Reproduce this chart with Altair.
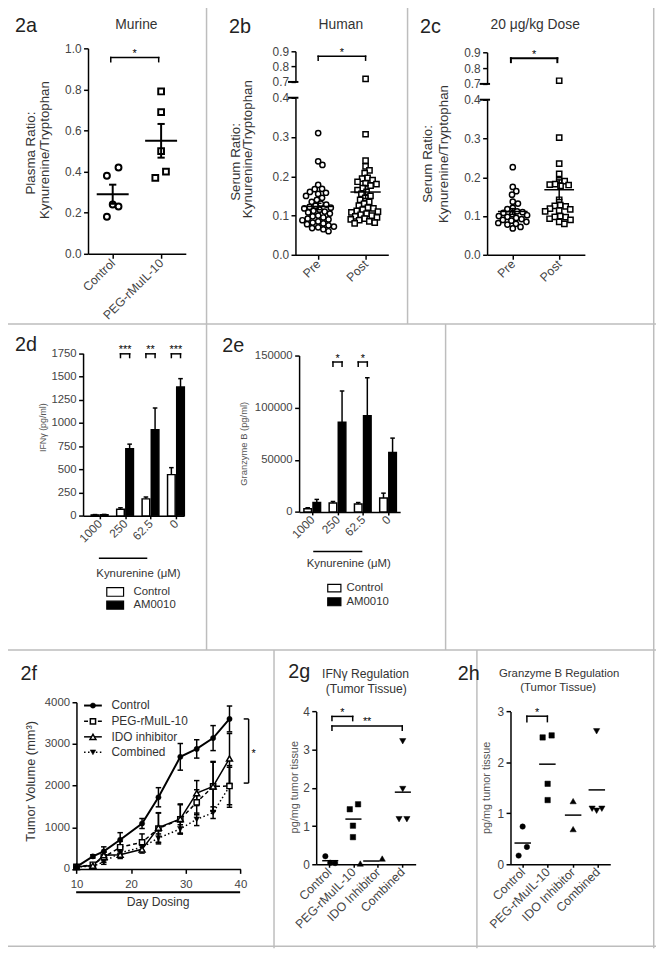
import math
import altair as alt
import pandas as pd

# ------------------------------------------------------------------ data
a_groups = ['Control', 'PEG-rMuIL-10']
a_control = [0.42, 0.38, 0.24, 0.23, 0.18]
a_control_jitter = [0.12, -0.12, 0.0, 0.12, -0.12]
a_peg = [0.79, 0.69, 0.50, 0.37, 0.40]
a_peg_jitter = [0.0, 0.0, 0.0, -0.12, 0.10]

bc_groups = ['Pre', 'Post']
b_pre = [0.31, 0.238, 0.229, 0.178, 0.168, 0.167, 0.160, 0.158, 0.155, 0.150,
         0.145, 0.140, 0.135, 0.130, 0.128, 0.125, 0.122, 0.120, 0.118, 0.115,
         0.112, 0.110, 0.108, 0.105, 0.100, 0.098, 0.095, 0.092, 0.090, 0.088,
         0.085, 0.082, 0.080, 0.078, 0.075, 0.072, 0.070, 0.068, 0.065, 0.060]
b_post = [0.72, 0.307, 0.240, 0.225, 0.215, 0.208, 0.196, 0.194, 0.190, 0.186,
          0.182, 0.180, 0.176, 0.170, 0.165, 0.160, 0.155, 0.150, 0.145, 0.140,
          0.135, 0.130, 0.125, 0.120, 0.118, 0.115, 0.112, 0.110, 0.108, 0.105,
          0.102, 0.100, 0.098, 0.095, 0.092, 0.090, 0.088, 0.085, 0.082, 0.080]
c_pre = [0.226, 0.175, 0.164, 0.155, 0.137, 0.132, 0.121, 0.118, 0.112, 0.110,
         0.108, 0.105, 0.102, 0.100, 0.098, 0.095, 0.092, 0.090, 0.088, 0.085,
         0.082, 0.080, 0.078, 0.072, 0.068]
c_post = [0.72, 0.302, 0.235, 0.209, 0.192, 0.190, 0.182, 0.181, 0.180, 0.178,
          0.142, 0.128, 0.126, 0.125, 0.119, 0.117, 0.114, 0.112, 0.100, 0.098,
          0.097, 0.093, 0.090, 0.085, 0.080]

de_conc = ['1000', '250', '62.5', '0']
d_control = [10, 70, 183, 444]
d_control_sem = [4, 17, 20, 75]
d_am0010 = [12, 722, 926, 1387]
d_am0010_sem = [4, 50, 235, 90]
d_sig = ['', '***', '**', '***']

e_control = [3100, 8500, 7600, 13300]
e_control_sem = [900, 1500, 1400, 4700]
e_am0010 = [9100, 86000, 92300, 56900]
e_am0010_sem = [2900, 30000, 36400, 13900]
e_sig = ['', '*', '*', '']

f_days = [10, 13, 15, 18, 22, 25, 29, 32, 35, 38]
f_series = ['Control', 'PEG-rMuIL-10', 'IDO inhibitor', 'Combined']
f_control = [50, 300, 420, 700, 1090, 1720, 2690, 2880, 3140, 3600]
f_control_sem = [20, 40, 110, 170, 120, 230, 320, 220, 300, 310]
f_peg = [50, 100, 280, 520, 640, 970, 1190, 1600, 1980, 1990]
f_peg_sem = [20, 30, 120, 140, 200, 370, 350, 300, 580, 450]
f_ido = [50, 80, 330, 340, 470, 990, 1200, 1820, 1980, 2650]
f_ido_sem = [20, 30, 80, 90, 90, 360, 360, 300, 600, 600]
f_comb = [50, 60, 170, 390, 520, 740, 960, 1190, 1350, 1980]
f_comb_sem = [20, 20, 60, 90, 90, 100, 100, 150, 140, 500]

gh_groups = ['Control', 'PEG-rMuIL-10', 'IDO Inhibitor', 'Combined']
g_control = [0.21, 0.04, 0.03]
g_peg = [1.44, 1.57, 1.01, 0.71]
g_ido = [0.02, 0.15]
g_comb = [3.22, 1.97, 1.18, 1.18]
g_control_jitter = [-0.15, 0.05, 0.25]
g_peg_jitter = [-0.15, 0.19, -0.02, -0.02]
g_ido_jitter = [-0.72, 0.18]
g_comb_jitter = [0.02, 0.02, -0.13, 0.19]

h_control = [0.74, 0.34, 0.17]
h_peg = [2.49, 2.53, 1.58, 1.26]
h_ido = [1.24, 0.69]
h_comb = [2.61, 1.09, 1.05, 1.09]
h_control_jitter = [0.0, 0.17, -0.16]
h_peg_jitter = [-0.2, 0.16, 0.0, 0.0]
h_ido_jitter = [0.02, 0.02]
h_comb_jitter = [-0.04, -0.22, -0.04, 0.17]

# ------------------------------------------------------------------ layout helpers
W, H = 656, 946
OX, OY = 8, 8
FONT = 'Liberation Sans'
ONE = pd.DataFrame({'k': [0]})
layers = []


def px(x):
    return x - OX


def py(y):
    return y - OY


class Panel:
    def __init__(self, xdom, xr, ydom, yr):
        self.xs = alt.Scale(domain=list(xdom), range=[px(xr[0]), px(xr[1])], nice=False, zero=False)
        self.ys = alt.Scale(domain=list(ydom), range=[py(yr[0]), py(yr[1])], nice=False, zero=False)

    def X(self, f, axis=None):
        return alt.X(field=f, type='quantitative', scale=self.xs, axis=axis)

    def Y(self, f, axis=None):
        return alt.Y(field=f, type='quantitative', scale=self.ys, axis=axis)


AX = dict(grid=False, title=None, domainColor='black', domainWidth=1.5, tickColor='black',
          tickWidth=1.5, labelFont=FONT, labelColor='#444', labelOverlap=False, labelFlush=False)


def label_expr(labels):
    expr = "'%s'" % labels[-1]
    for i in range(len(labels) - 2, -1, -1):
        expr = "datum.value == %d ? '%s' : (%s)" % (i, labels[i], expr)
    return expr


def y_axis(xref, values, fmt, size=12, tick=4.5, pad=2.5):
    return alt.Axis(orient='left', offset=-px(xref), values=values, format=fmt,
                    labelFontSize=size, tickSize=tick, labelPadding=pad, **AX)


def x_axis(yref, values, labels=None, size=12, angle=0, tick=4.5, pad=2.5, fmt=None):
    kw = dict(orient='bottom', offset=py(yref) - H, values=values, labelFontSize=size,
              tickSize=tick, labelPadding=pad, **AX)
    if labels:
        kw['labelExpr'] = label_expr(labels)
    if angle:
        kw.update(labelAngle=angle, labelAlign='right', labelBaseline='middle')
    if fmt:
        kw['format'] = fmt
    return alt.Axis(**kw)


def txt(s, x, y, size=12, color='#333', align='center', baseline='middle', angle=0):
    kw = dict(text=s, font=FONT, fontSize=size, color=color, align=align, baseline=baseline)
    if angle:
        kw['angle'] = angle
    return alt.Chart(ONE).mark_text(**kw).encode(x=alt.value(px(x)), y=alt.value(py(y)))


def hrule(x0, x1, y, color='black', width=1.5, dash=None):
    kw = dict(color=color, strokeWidth=width)
    if dash:
        kw['strokeDash'] = dash
    return alt.Chart(ONE).mark_rule(**kw).encode(
        x=alt.value(px(x0)), x2=alt.value(px(x1)), y=alt.value(py(y)))


def vrule(x, y0, y1, color='black', width=1.5):
    return alt.Chart(ONE).mark_rule(color=color, strokeWidth=width).encode(
        x=alt.value(px(x)), y=alt.value(py(y0)), y2=alt.value(py(y1)))


def box(x0, x1, y0, y1, fill):
    return alt.Chart(ONE).mark_rect(fill=fill, stroke='black', strokeWidth=1.2).encode(
        x=alt.value(px(x0)), x2=alt.value(px(x1)), y=alt.value(py(y0)), y2=alt.value(py(y1)))


def bracket(P, x0, x1, y, yt, label, size=11, sw=1.5):
    df = pd.DataFrame({'x0': [x0], 'x1': [x1], 'y': [y], 'yt': [yt],
                       'xm': [(x0 + x1) / 2.0], 't': [label]})
    b = alt.Chart(df)
    rk = dict(color='black', strokeWidth=sw, strokeCap='square')
    return [
        b.mark_rule(**rk).encode(x=P.X('x0'), x2='x1', y=P.Y('y')),
        b.mark_rule(**rk).encode(x=P.X('x0'), y=P.Y('y'), y2='yt'),
        b.mark_rule(**rk).encode(x=P.X('x1'), y=P.Y('y'), y2='yt'),
        b.mark_text(font=FONT, fontSize=size, color='black', baseline='alphabetic', dy=-0.5).encode(
            x=P.X('xm'), y=P.Y('y'), text='t:N'),
    ]


def mean_sem(P, df, halfw, capw, sw=1.5):
    base = alt.Chart(df).transform_aggregate(
        m='mean(v)', s='stderr(v)', groupby=['g']).transform_calculate(
        lo='datum.m - datum.s', hi='datum.m + datum.s',
        x0='datum.g - %f' % halfw, x1='datum.g + %f' % halfw,
        c0='datum.g - %f' % capw, c1='datum.g + %f' % capw)
    rk = dict(color='black', strokeWidth=sw)
    return [
        base.mark_rule(**rk).encode(x=P.X('x0'), x2='x1', y=P.Y('m')),
        base.mark_rule(**rk).encode(x=P.X('g'), y=P.Y('lo'), y2='hi'),
        base.mark_rule(**rk).encode(x=P.X('c0'), x2='c1', y=P.Y('hi')),
        base.mark_rule(**rk).encode(x=P.X('c0'), x2='c1', y=P.Y('lo')),
    ]


def swarm(vals, unit_px, d):
    placed, offs = [], []
    for v in vals:
        y = v * unit_px
        ivs = []
        for (qx, qy) in placed:
            dy = abs(y - qy)
            if dy < d:
                w = math.sqrt(d * d - dy * dy)
                ivs.append((qx - w, qx + w))
        cands = [0.0] + [a for a, _ in ivs] + [b for _, b in ivs]
        cands.sort(key=lambda c: (round(abs(c), 6), -c))
        x = 0.0
        for c in cands:
            if all(not (a + 1e-6 < c < b - 1e-6) for a, b in ivs):
                x = c
                break
        placed.append((x, y))
        offs.append(x)
    return offs


def open_pt(shape, size, sw=1.5):
    return dict(shape=shape, size=size, filled=True, fill='white', stroke='black',
                strokeWidth=sw, opacity=1)


def solid_pt(shape, size):
    return dict(shape=shape, size=size, filled=True, fill='black', stroke='black',
                strokeWidth=0.5, opacity=1)


# ------------------------------------------------------------------ panel borders
BC = '#bdbdbd'
layers += [
    hrule(0, 664, 322, BC, 1.5), hrule(0, 664, 652, BC, 1.5), hrule(0, 664, 952, BC, 1.5),
    vrule(209, 0, 322, BC, 1.5), vrule(412.5, 0, 322, BC, 1.5),
    vrule(209, 322, 652, BC, 1.5), vrule(451, 322, 652, BC, 1.5),
    vrule(277.3, 652, 954, BC, 1.5), vrule(482.7, 652, 954, BC, 1.5),
    vrule(661.7, 0, 954, BC, 1.5),
]

# ------------------------------------------------------------------ panel 2a
Pa = Panel([-0.51, 1.51], [89, 188], [0, 1], [251, 43])
df_a = pd.DataFrame({'g': [0] * len(a_control) + [1] * len(a_peg),
                     'v': a_control + a_peg,
                     'j': a_control_jitter + a_peg_jitter})
ba = alt.Chart(df_a).transform_calculate(xp='datum.g + datum.j')
layers.append(ba.transform_filter('datum.g == 0').mark_point(**open_pt('circle', 36, 2)).encode(
    x=Pa.X('xp', x_axis(251, [0, 1], a_groups, size=12.5, angle=315)),
    y=Pa.Y('v', y_axis(89, [0, 0.2, 0.4, 0.6, 0.8, 1.0], '.1f'))))
layers.append(ba.transform_filter('datum.g == 1').mark_point(**open_pt('square', 34, 2)).encode(
    x=Pa.X('xp'), y=Pa.Y('v')))
layers += mean_sem(Pa, df_a, 0.33, 0.075, 2)
layers += bracket(Pa, -0.04, 0.95, 0.955, 0.935, '*')
layers += [
    txt('2a', 15, 26.7, 20, '#222', 'left', 'alphabetic'),
    txt('Murine', 138, 23.3, 14, '#333', 'center', 'alphabetic'),
    txt('Plasma Ratio:', 31, 149, 13.5, '#333', angle=270),
    txt('Kynurenine/Tryptophan', 45.5, 146, 13.5, '#333', angle=270),
]


# ------------------------------------------------------------------ panels 2b / 2c
def scatter_panel(pre, post, xaxis_x, xaxis_end, x_pre, x_post, lo_yr, hi_yr, brk, label,
                  title, lab_x, lab_title_x, ytitle_pos, bracket_sw):
    spacing = x_post - x_pre
    xdom = [(xaxis_x - x_pre) / spacing, (xaxis_end - x_pre) / spacing]
    Plo = Panel(xdom, [xaxis_x, xaxis_end], [0, 0.4], lo_yr)
    Phi = Panel(xdom, [xaxis_x, xaxis_end], [0.7, 0.9], hi_yr)
    unit_px = (lo_yr[0] - lo_yr[1]) / 0.4
    rows = []
    for g, vals in enumerate([pre, post]):
        vs = sorted(vals, reverse=True)
        offs = swarm(vs, unit_px, 5.6)
        for v, o in zip(vs, offs):
            rows.append({'g': g, 'v': v, 'j': o / spacing})
    df = pd.DataFrame(rows)
    base = alt.Chart(df).transform_calculate(xp='datum.g + datum.j')
    out = []
    lo0 = base.transform_filter('datum.g == 0 && datum.v <= 0.5')
    lo1 = base.transform_filter('datum.g == 1 && datum.v <= 0.5')
    hi1 = base.transform_filter('datum.g == 1 && datum.v > 0.5')
    out.append(lo0.mark_point(**open_pt('circle', 28)).encode(
        x=Plo.X('xp', x_axis(lo_yr[0], [0, 1], bc_groups, size=12.5, angle=315)),
        y=Plo.Y('v', y_axis(xaxis_x, [0, 0.1, 0.2, 0.3, 0.4], '.1f'))))
    out.append(lo1.mark_point(**open_pt('square', 28)).encode(x=Plo.X('xp'), y=Plo.Y('v')))
    out.append(hi1.mark_point(**open_pt('square', 28)).encode(
        x=Phi.X('xp'), y=Phi.Y('v', y_axis(xaxis_x, [0.7, 0.8, 0.9], '.1f'))))
    out += mean_sem(Plo, df, 0.32, 0.07, 1.5)
    out += bracket(Phi, brk[0], brk[1], brk[2], brk[3], '*', sw=bracket_sw)
    # axis break marks
    bm = pd.DataFrame({'v': [0.7]})
    bl = pd.DataFrame({'v': [0.4]})
    out.append(alt.Chart(bm).mark_rule(color='black', strokeWidth=2).encode(
        x=alt.value(px(xaxis_x - 7.5)), x2=alt.value(px(xaxis_x + 3)), y=Phi.Y('v')))
    out.append(alt.Chart(bl).mark_rule(color='black', strokeWidth=2).encode(
        x=alt.value(px(xaxis_x - 7.5)), x2=alt.value(px(xaxis_x + 3)), y=Plo.Y('v')))
    out += [
        txt(label, lab_x, 27.3, 20, '#222', 'left', 'alphabetic'),
        txt(title, lab_title_x, 23.8, 14, '#333', 'center', 'alphabetic'),
        txt('Serum Ratio:', ytitle_pos[0], ytitle_pos[1], 13.5, '#333', angle=270),
        txt('Kynurenine/Tryptophan', ytitle_pos[2], ytitle_pos[3], 13.5, '#333', angle=270),
    ]
    return out


layers += scatter_panel(b_pre, b_post, 299, 393, 322, 370, [252, 93], [77, 46],
                        (0.0, 1.0, 0.868, 0.842), '2b', 'Human', 231.7, 345,
                        (239, 158, 251.5, 145), 1.5)
layers += scatter_panel(c_pre, c_post, 493, 592, 519, 566, [252, 95], [79, 47],
                        (-0.04, 0.96, 0.8625, 0.8375), '2c', '20 \u03bcg/kg Dose', 425, 541.7,
                        (433, 160, 449, 150), 2)


# ------------------------------------------------------------------ panels 2d / 2e
def bar_panel(P, ctrl, ctrl_sem, am, am_sem, sig, xax, yax, br_y, br_yt):
    rows = []
    for i in range(len(ctrl)):
        rows.append({'i': i, 's': 0, 'v': ctrl[i], 'e': ctrl_sem[i]})
        rows.append({'i': i, 's': 1, 'v': am[i], 'e': am_sem[i]})
    df = pd.DataFrame(rows)
    base = alt.Chart(df).transform_calculate(
        c='datum.i + (datum.s == 0 ? -0.18 : 0.18)').transform_calculate(
        x0='datum.c - 0.15', x1='datum.c + 0.15', k0='datum.c - 0.09', k1='datum.c + 0.09',
        top='datum.v + datum.e', z='0')
    out = [
        base.transform_filter('datum.s == 0').mark_rect(fill='white', stroke='black', strokeWidth=1.5).encode(
            x=P.X('x0', xax), x2='x1', y=P.Y('z', yax), y2='v'),
        base.transform_filter('datum.s == 1').mark_rect(fill='black', stroke='black', strokeWidth=1.5).encode(
            x=P.X('x0'), x2='x1', y=P.Y('z'), y2='v'),
        base.mark_rule(color='black', strokeWidth=1.5).encode(x=P.X('c'), y=P.Y('v'), y2='top'),
        base.mark_rule(color='black', strokeWidth=1.5).encode(x=P.X('k0'), x2='k1', y=P.Y('top')),
    ]
    for i, s in enumerate(sig):
        if s:
            out += bracket(P, i - 0.18, i + 0.18, br_y, br_yt, s, size=11)
    return out


Pd = Panel([-0.65, 3.31], [84, 186], [0, 1750], [516.3, 351.7])
layers += bar_panel(Pd, d_control, d_control_sem, d_am0010, d_am0010_sem, d_sig,
                    x_axis(516.3, [0, 1, 2, 3], de_conc, size=12, angle=315, tick=3),
                    y_axis(84, [0, 250, 500, 750, 1000, 1250, 1500, 1750], 'd', size=11.5),
                    1744, 1704)
layers += [
    txt('2d', 15, 349.3, 20, '#222', 'left', 'alphabetic'),
    txt('IFN\u03b3 (pg/ml)', 43, 427, 9, '#555', angle=270),
    hrule(100, 149, 559.3),
    txt('Kynurenine (\u03bcM)', 140, 575, 11.5, '#333'),
    box(108, 125, 589, 597.7, 'white'), box(108, 125, 602.7, 610.7, 'black'),
    txt('Control', 135, 593.3, 11.5, '#333', 'left'),
    txt('AM0010', 135, 606.7, 11.5, '#333', 'left'),
]

Pe = Panel([-0.52, 3.48], [302.7, 405], [0, 150000], [512.3, 354])
layers += bar_panel(Pe, e_control, e_control_sem, e_am0010, e_am0010_sem, e_sig,
                    x_axis(512.3, [0, 1, 2, 3], de_conc, size=12, angle=315, tick=3),
                    y_axis(302.7, [0, 50000, 100000, 150000], 'd', size=11.5),
                    143800, 139800)
layers += [
    txt('2e', 225, 350.7, 20, '#222', 'left', 'alphabetic'),
    txt('Granzyme B (pg/ml)', 246.7, 443.3, 9.5, '#555', angle=270),
    hrule(317, 366.7, 552.3),
    txt('Kynurenine (\u03bcM)', 353, 565, 11.5, '#333'),
    box(331.7, 345, 585.7, 593.3, 'white'), box(331.7, 345, 599.3, 607.3, 'black'),
    txt('Control', 350.7, 589.5, 11.5, '#333', 'left'),
    txt('AM0010', 350.7, 603.3, 11.5, '#333', 'left'),
]

# ------------------------------------------------------------------ panel 2f
Pf = Panel([10, 40], [77.3, 243.3], [0, 4000], [873.7, 705])
f_rows = []
for k, (vals, sems) in enumerate([(f_control, f_control_sem), (f_peg, f_peg_sem),
                                  (f_ido, f_ido_sem), (f_comb, f_comb_sem)]):
    for dd, v, e in zip(f_days, vals, sems):
        f_rows.append({'k': k, 'day': dd, 'v': v, 'e': e})
df_f = pd.DataFrame(f_rows)
fb = alt.Chart(df_f).transform_calculate(
    lo='datum.v - datum.e', hi='datum.v + datum.e', d0='datum.day - 0.5', d1='datum.day + 0.5')
f_style = {
    0: dict(dash=None, pt=solid_pt('circle', 28), lw=2),
    1: dict(dash=[4, 3], pt=open_pt('square', 28), lw=1.5),
    2: dict(dash=None, pt=open_pt('triangle-up', 36), lw=1.5),
    3: dict(dash=[1.5, 2.5], pt=solid_pt('triangle-down', 32), lw=1.5),
}
f_order = [3, 1, 2, 0]
for k in f_order:
    st = f_style[k]
    lk = dict(color='black', strokeWidth=st['lw'])
    if st['dash']:
        lk['strokeDash'] = st['dash']
    if k == 0:
        enc = dict(x=Pf.X('day', x_axis(873.7, [10, 20, 30, 40], size=11.5, fmt='d', pad=5)),
                   y=Pf.Y('v', y_axis(77.3, [0, 1000, 2000, 3000, 4000], 'd', size=11.5)))
    else:
        enc = dict(x=Pf.X('day'), y=Pf.Y('v'))
    layers.append(fb.transform_filter('datum.k == %d' % k).mark_line(**lk).encode(**enc))
layers.append(fb.mark_rule(color='black', strokeWidth=1.5).encode(x=Pf.X('day'), y=Pf.Y('lo'), y2='hi'))
layers.append(fb.mark_rule(color='black', strokeWidth=1.5).encode(x=Pf.X('d0'), x2='d1', y=Pf.Y('hi')))
layers.append(fb.mark_rule(color='black', strokeWidth=1.5).encode(x=Pf.X('d0'), x2='d1', y=Pf.Y('lo')))
for k in f_order:
    layers.append(fb.transform_filter('datum.k == %d' % k).mark_point(**f_style[k]['pt']).encode(
        x=Pf.X('day'), y=Pf.Y('v')))
# significance bracket at the right
fbr = pd.DataFrame({'x': [41.5], 'xt': [40.6], 'y0': [2060], 'y1': [3600], 'ym': [2830], 't': ['*']})
fbc = alt.Chart(fbr)
layers += [
    fbc.mark_rule(color='black', strokeWidth=1.5).encode(x=Pf.X('x'), y=Pf.Y('y0'), y2='y1'),
    fbc.mark_rule(color='black', strokeWidth=1.5).encode(x=Pf.X('xt'), x2='x', y=Pf.Y('y0')),
    fbc.mark_rule(color='black', strokeWidth=1.5).encode(x=Pf.X('xt'), x2='x', y=Pf.Y('y1')),
    fbc.mark_text(font=FONT, fontSize=11, color='black', align='left', baseline='middle', dx=3, dy=3).encode(
        x=Pf.X('x'), y=Pf.Y('ym'), text='t:N'),
]
# legend
f_leg_y = [708.3, 724.3, 740, 755.7]
for k, name in enumerate(f_series):
    st = f_style[k]
    layers.append(hrule(85, 103, f_leg_y[k], 'black', st['lw'], st['dash']))
    layers.append(alt.Chart(ONE).mark_point(**st['pt']).encode(
        x=alt.value(px(94)), y=alt.value(py(f_leg_y[k]))))
    layers.append(txt(name, 112.7, f_leg_y[k], 12, '#333', 'left'))
layers += [
    txt('2f', 20.7, 682.7, 20, '#222', 'left', 'alphabetic'),
    txt('Tumor Volume (mm\u00b3)', 31.7, 785, 13, '#333', angle=270),
    hrule(77, 243, 897.3, 'black', 2),
    txt('Day Dosing', 160, 907.3, 12.3, '#333'),
]


# ------------------------------------------------------------------ panels 2g / 2h
def gh_panel(P, vals_list, jit_list, xax, yax):
    rows = []
    for gi, (vals, jits) in enumerate(zip(vals_list, jit_list)):
        for v, j in zip(vals, jits):
            rows.append({'g': gi, 'v': v, 'j': j})
    df = pd.DataFrame(rows)
    base = alt.Chart(df).transform_calculate(xp='datum.g + datum.j')
    shapes = [('circle', 30), ('square', 30), ('triangle-up', 40), ('triangle-down', 40)]
    out = []
    for gi, (sh, sz) in enumerate(shapes):
        if gi == 0:
            enc = dict(x=P.X('xp', xax), y=P.Y('v', yax))
        else:
            enc = dict(x=P.X('xp'), y=P.Y('v'))
        out.append(base.transform_filter('datum.g == %d' % gi).mark_point(**solid_pt(sh, sz)).encode(**enc))
    m = base.transform_aggregate(m='mean(v)', mx='mean(xp)', groupby=['g']).transform_calculate(
        x0='datum.mx - 0.33', x1='datum.mx + 0.33')
    out.append(m.mark_rule(color='black', strokeWidth=1.5).encode(x=P.X('x0'), x2='x1', y=P.Y('m')))
    return out


Pg = Panel([-0.526, 3.55], [320, 420.7], [0, 4], [869, 714.3])
layers += gh_panel(Pg, [g_control, g_peg, g_ido, g_comb],
                   [g_control_jitter, g_peg_jitter, g_ido_jitter, g_comb_jitter],
                   x_axis(869, [0, 1, 2, 3], gh_groups, size=12.5, angle=315, tick=3),
                   y_axis(320, [0, 1, 2, 3, 4], 'd', size=12))
layers += bracket(Pg, 0.12, 0.97, 3.87, 3.76, '*')
layers += bracket(Pg, 0.12, 3.0, 3.62, 3.51, '**')
layers += [
    txt('2g', 291.7, 680, 20, '#222', 'left', 'alphabetic'),
    txt('IFN\u03b3 Regulation', 370, 676.7, 12.3, '#333'),
    txt('(Tumor Tissue)', 370.7, 691.7, 12.3, '#333'),
    txt('pg/mg tumor tissue', 298.3, 791, 11, '#555', angle=270),
]

Ph = Panel([-0.486, 3.506], [516.7, 617.7], [0, 3], [869, 714.3])
layers += gh_panel(Ph, [h_control, h_peg, h_ido, h_comb],
                   [h_control_jitter, h_peg_jitter, h_ido_jitter, h_comb_jitter],
                   x_axis(869, [0, 1, 2, 3], gh_groups, size=12.5, angle=315, tick=3),
                   y_axis(516.7, [0, 1, 2, 3], 'd', size=12))
layers += bracket(Ph, 0.17, 0.99, 2.907, 2.80, '*')
layers += [
    txt('2h', 463.3, 682.7, 20, '#222', 'left', 'alphabetic'),
    txt('Granzyme B Regulation', 566, 676.7, 11.5, '#333'),
    txt('(Tumor  Tissue)', 565, 690.7, 11.5, '#333'),
    txt('pg/mg tumor tissue', 492.7, 791.7, 11, '#555', angle=270),
]

# ------------------------------------------------------------------ assemble
chart = alt.layer(*layers).resolve_scale(x='independent', y='independent').properties(
    width=W, height=H, autosize=alt.AutoSizeParams(type='none'), padding=0, background='white'
).configure_view(strokeWidth=0)

chart.save('out.html', embed_options={'renderer': 'svg', 'actions': False})
